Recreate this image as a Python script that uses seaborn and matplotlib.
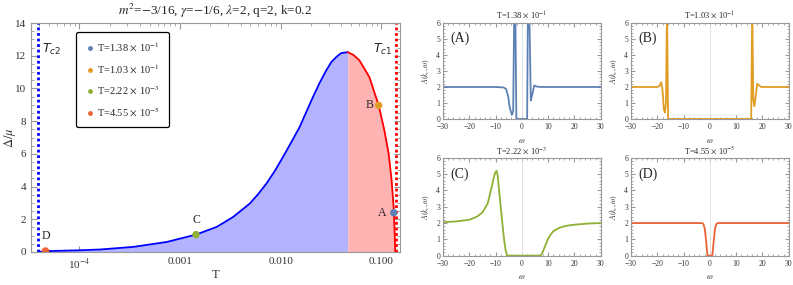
import numpy as np
import pandas as pd
import matplotlib
matplotlib.use('Agg')
import matplotlib.pyplot as plt
import seaborn as sns
from matplotlib.ticker import MultipleLocator, LogLocator, FixedLocator, NullFormatter

# main curve Delta/mu vs T
T_lo = [3.93e-5, 4.82e-5, 1.0e-4, 1.614e-4, 3.45e-4, 7.38e-4, 1.44e-3, 2.31e-3, 3.37e-3,
        4.93e-3, 5.96e-3, 7.21e-3, 8.73e-3, 0.01054, 0.01276, 0.01542, 0.01795, 0.0209,
        0.0243, 0.0283, 0.0318, 0.0356, 0.0398, 0.0464]
D_lo = [0.0, 0.05, 0.1, 0.15, 0.31, 0.61, 1.06, 1.53, 2.14,
        2.96, 3.53, 4.18, 4.95, 5.81, 6.72, 7.64, 8.56, 9.47,
        10.33, 11.1, 11.61, 11.92, 12.16, 12.22]
T_hi = [0.0464, 0.0528, 0.0605, 0.076, 0.094, 0.1071, 0.1181, 0.1264, 0.1324, 0.1355, 0.1368, 0.1372]
D_hi = [12.22, 12.05, 11.72, 10.7, 8.97, 7.44, 6.01, 4.38, 2.75, 1.12, 0.3, 0.0]
Tc2 = 3.9e-5
Tc1 = 0.141

pt_names = ['A', 'B', 'C', 'D']
pt_T = [0.1328, 0.094, 1.44e-3, 4.6e-5]
pt_D = [2.4, 8.97, 1.06, 0.06]
pt_labels = [r'T=1.38 $\times$ 10$^{-1}$', r'T=1.03 $\times$ 10$^{-1}$',
             r'T=2.22 $\times$ 10$^{-3}$', r'T=4.55 $\times$ 10$^{-5}$']
colors = ['#5E81B5', '#E19C24', '#8FB032', '#EB6235']

# spectral functions
wA = [-30, -10, -7, -6, -5.2, -4.6, -3.8, -3.3, -2.9, -2.5, -2.1, 2.0, 2.3, 2.8, 3.4, 3.9, 4.7, 5.5, 7, 30]
aA = [2.0, 2.0, 1.97, 1.88, 1.4, 0.7, 0.25, 0.5, 7, 7, 0, 0, 7, 7, 1.15, 1.5, 2.1, 2.03, 2.0, 2.0]
wB = [-30, -20, -19.2, -18.5, -18.0, -17.5, -17.1, -16.7, -16.3, -15.9, 15.7, 16.1, 16.5, 16.9, 17.4, 18.0, 18.7, 19.5, 30]
aB = [2.0, 2.0, 2.05, 2.3, 1.8, 0.6, 0.4, 1.0, 7, 0, 0, 7, 1.2, 0.8, 1.4, 2.2, 2.1, 2.0, 2.0]
wC = [-30, -25, -20, -17, -15, -13, -11.5, -10.5, -10, -9.6, -9.2, -8.6, -8, -7.3, -6.7, -6.2, -5.7, -5.3,
      7, 7.5, 8, 9, 10, 11, 12, 13.5, 15, 17.5, 20, 25, 30]
aC = [2.05, 2.1, 2.2, 2.4, 2.65, 3.2, 4.2, 4.9, 5.15, 5.2, 4.9, 3.9, 2.9, 1.8, 0.9, 0.35, 0.05, 0,
      0, 0.08, 0.25, 0.65, 1.05, 1.3, 1.5, 1.65, 1.75, 1.85, 1.9, 1.97, 2.0]
wD = [-30, -3, -2.5, -2, -1.5, -1.1, -0.9, 0.9, 1.1, 1.5, 2, 2.5, 3, 30]
aD = [2, 2, 1.95, 1.7, 1.0, 0.3, 0, 0, 0.3, 1.0, 1.7, 1.95, 2, 2]
spec_w = [wA, wB, wC, wD]
spec_a = [aA, aB, aC, aD]
spec_titles = [r'T=1.38 $\times$ 10$^{-1}$', r'T=1.03 $\times$ 10$^{-1}$',
               r'T=2.22 $\times$ 10$^{-3}$', r'T=4.55 $\times$ 10$^{-5}$']

sns.set_style('ticks')
plt.rcParams['font.family'] = ['Liberation Serif', 'DejaVu Serif']
plt.rcParams['mathtext.fontset'] = 'stix'
plt.rcParams['axes.edgecolor'] = '#999999'
plt.rcParams['xtick.color'] = '#999999'
plt.rcParams['ytick.color'] = '#999999'
plt.rcParams['xtick.labelcolor'] = '#333333'
plt.rcParams['ytick.labelcolor'] = '#333333'

fig = plt.figure(figsize=(7.93, 2.85), dpi=100)
ax = fig.add_axes([0.039, 0.116, 0.465, 0.803])

lo = pd.DataFrame({'T': T_lo, 'D': D_lo})
hi = pd.DataFrame({'T': T_hi, 'D': D_hi})
ax.fill_between(lo['T'], 0, lo['D'], color='#B3B3FF', lw=0)
ax.fill_between(hi['T'], 0, hi['D'], color='#FFB3B3', lw=0)
sns.lineplot(data=lo, x='T', y='D', ax=ax, color='blue', lw=1.3, sort=False, estimator=None)
sns.lineplot(data=hi, x='T', y='D', ax=ax, color='red', lw=1.3, sort=False, estimator=None)
ax.axvline(Tc2, color='blue', ls=(0, (1, 1)), lw=2)
ax.axvline(Tc1, color='red', ls=(0, (1, 1)), lw=2)

pts = pd.DataFrame({'T': pt_T, 'D': pt_D, 'lab': pt_labels})
sns.scatterplot(data=pts, x='T', y='D', hue='lab', palette=colors, ax=ax, s=28,
                edgecolor='none', zorder=5, legend=True)
ax.set_xscale('log')
ax.set_xlim(3.3e-5, 0.152)
ax.set_ylim(0, 14)
ax.yaxis.set_major_locator(MultipleLocator(2))
ax.yaxis.set_minor_locator(MultipleLocator(0.5))
ax.xaxis.set_major_locator(FixedLocator([1e-4, 1e-3, 1e-2, 1e-1]))
ax.xaxis.set_minor_locator(LogLocator(base=10, subs=np.arange(2, 10)))
ax.xaxis.set_minor_formatter(NullFormatter())
ax.set_xticklabels([r'10$^{-4}$', '0.001', '0.010', '0.100'])
ax.tick_params(which='both', direction='in', top=True, right=True, labelsize=8)
ax.tick_params(which='major', length=4)
ax.tick_params(which='minor', length=2)
ax.set_xlabel('T', fontsize=9, color='#333333', va='center')
ax.set_ylabel(r'$\Delta/\mu$', fontsize=9, color='#333333', va='center')
ax.xaxis.set_label_coords(0.5, -0.1)
ax.yaxis.set_label_coords(-0.058, 0.5)
ax.set_title(r'$m^2$=$-$3/16, $\gamma$=$-$1/6, $\lambda$=2, q=2, k=0.2', fontsize=9.5, pad=6)

ax.text(4.3e-5, 12.2, r'$T_{c2}$', fontsize=9, math_fontfamily='dejavusans')
ax.text(0.082, 12.2, r'$T_{c1}$', fontsize=9, math_fontfamily='dejavusans')
ax.text(4.6e-5, 0.8, 'D', fontsize=8.5, ha='center')
ax.text(1.44e-3, 1.8, 'C', fontsize=8.5, ha='center')
ax.text(0.083, 8.97, 'B', fontsize=8.5, ha='right', va='center')
ax.text(0.112, 2.4, 'A', fontsize=8.5, ha='right', va='center')

h, l = ax.get_legend_handles_labels()
for hh in h:
    hh.set_markersize(3.5)
leg = ax.legend(h, pt_labels, loc='upper left', bbox_to_anchor=(0.107, 0.982), fontsize=7.5,
                frameon=True, fancybox=True, edgecolor='black', framealpha=1,
                handletextpad=0.1, labelspacing=0.85, borderpad=0.8, handlelength=1.2)
leg.get_frame().set_linewidth(0.9)

# small panels
pos = [[0.5586, 0.5825, 0.199, 0.337], [0.7957, 0.5825, 0.199, 0.337],
       [0.5586, 0.103, 0.199, 0.343], [0.7957, 0.103, 0.199, 0.343]]
for i in range(4):
    a = fig.add_axes(pos[i])
    df = pd.DataFrame({'w': spec_w[i], 'A': spec_a[i]})
    a.axvline(0, color='#dddddd', lw=0.6)
    sns.lineplot(data=df, x='w', y='A', ax=a, color=colors[i], lw=1.3, sort=False, estimator=None)
    a.set_xlim(-30, 30)
    a.set_ylim(0, 6)
    a.xaxis.set_major_locator(MultipleLocator(10))
    a.xaxis.set_minor_locator(MultipleLocator(2))
    a.yaxis.set_major_locator(MultipleLocator(1))
    a.yaxis.set_minor_locator(MultipleLocator(0.2))
    a.tick_params(which='both', direction='in', top=True, right=True, labelsize=5.5, pad=2)
    a.tick_params(axis='x', pad=3)
    a.tick_params(which='major', length=3)
    a.tick_params(which='minor', length=1.5)
    a.set_xlabel(r'$\omega$', fontsize=6, color='#333333', labelpad=4)
    a.set_ylabel(r'$A(k_c,\omega)$', fontsize=5.5, color='#333333', labelpad=3)
    a.set_title(spec_titles[i], fontsize=6, pad=3)
    a.text(0.045, 0.8, '(' + pt_names[i] + ')', transform=a.transAxes, fontsize=10)

fig.savefig('out.png', dpi=100)
